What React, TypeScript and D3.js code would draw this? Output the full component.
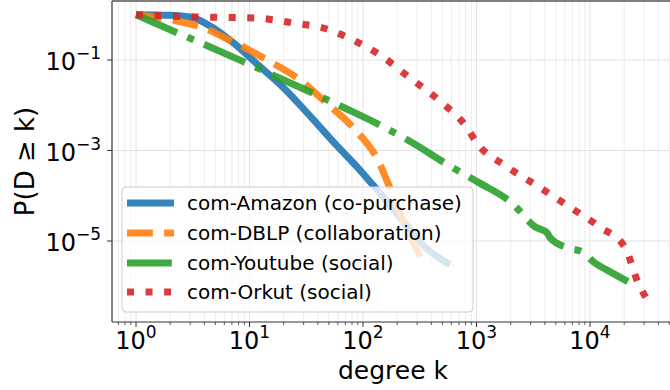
import React from 'react';
import * as d3 from 'd3';

const width = 670;
const height = 390;
const plot = { left: 112, top: 1, right: 672, bottom: 322 };

// CCDF samples (degree k, P(D >= k))
const amazonK = [1, 2, 3, 4.8, 7.2, 12.4, 19.7, 36, 58, 94, 133, 220, 352, 585];
const amazonP = [1, 0.97, 0.89, 0.51, 0.24, 0.071, 0.025, 0.005, 0.00133, 0.00037, 0.000135, 0.00003, 0.0000074, 0.000003];

const dblpK = [1, 2.1, 3.7, 7.2, 14.3, 27.9, 48, 85, 135, 180, 219, 270, 337];
const dblpP = [1, 0.76, 0.54, 0.25, 0.1, 0.036, 0.011, 0.0029, 0.00062, 0.000115, 0.000034, 0.0000107, 0.0000035];

const youtubeK = [1, 2.3, 4.2, 9.5, 17.5, 36, 69, 156, 270, 561, 1030, 2050, 3300, 4200, 4460, 6300, 8500, 11000, 15500, 22500];
const youtubeP = [1, 0.4, 0.21, 0.085, 0.042, 0.0186, 0.0087, 0.0032, 0.0015, 0.00048, 0.0002, 0.000069, 0.0000204, 0.0000151, 0.0000117, 0.0000071, 0.0000058, 0.0000033, 0.000002, 0.0000012];

const orkutK = [1, 3.5, 11, 24, 51, 72, 141, 260, 477, 824, 1000, 1850, 3500, 6650, 12200, 20400, 26500, 32600];
const orkutP = [1, 0.89, 0.85, 0.66, 0.46, 0.32, 0.129, 0.04, 0.0123, 0.0032, 0.0015, 0.00044, 0.00016, 0.000056, 0.0000204, 0.0000071, 0.0000012, 0.00000046];

const seriesNames = ['com-Amazon (co-purchase)', 'com-DBLP (collaboration)', 'com-Youtube (social)', 'com-Orkut (social)'];
const seriesColors = ['#1f77b4', '#ff7f0e', '#2ca02c', '#d62728'];
const lw = 7;
const seriesDashes = ['', `${3.7 * lw},${1.6 * lw}`, `${6.4 * lw},${1.6 * lw},${lw},${1.6 * lw}`, `${lw},${1.65 * lw}`];

const xMajor = [1, 10, 100, 1000, 10000];
const yMajor = [1e-1, 1e-3, 1e-5];

const font = 'DejaVu Sans, sans-serif';

function TickLabel({ exp, ...rest }) {
  const e = exp < 0 ? `\u2212${-exp}` : `${exp}`;
  return (
    <text {...rest} fontFamily={font} fill="#000">
      <tspan fontSize={24}>10</tspan>
      <tspan fontSize={17} dy={-11}>{e}</tspan>
    </text>
  );
}

export default function App() {
  const x = d3.scaleLog().domain([1, 1e4]).range([136, 590]);
  const y = d3.scaleLog().domain([1e-1, 1e-5]).range([60, 241]);

  const series = [
    amazonK.map((k, i) => [k, amazonP[i]]),
    dblpK.map((k, i) => [k, dblpP[i]]),
    youtubeK.map((k, i) => [k, youtubeP[i]]),
    orkutK.map((k, i) => [k, orkutP[i]]),
  ];

  const line = d3.line().x(d => x(d[0])).y(d => y(d[1])).curve(d3.curveMonotoneX);

  const xMin = x.invert(plot.left);
  const xMax = x.invert(plot.right);
  const xMinor = [];
  for (let dec = 0.1; dec <= 1e5; dec *= 10) {
    for (let m = 1; m < 10; m++) {
      const v = dec * m;
      if (v >= xMin && v <= xMax && !xMajor.some(t => Math.abs(t - v) / t < 1e-6)) xMinor.push(v);
    }
  }

  const legendY = [203, 233, 263, 292];

  return (
    <svg width={width} height={height} style={{ position: 'absolute', left: 0, top: 0 }}>
      <defs>
        <clipPath id="plotclip">
          <rect x={plot.left} y={plot.top} width={plot.right - plot.left} height={plot.bottom - plot.top} />
        </clipPath>
      </defs>
      <rect x={0} y={0} width={width} height={height} fill="#fff" />

      {/* grid */}
      <g>
        {xMinor.map((v, i) => (
          <line key={'gm' + i} x1={x(v)} x2={x(v)} y1={plot.top} y2={plot.bottom} stroke="#ececec" strokeWidth={1} />
        ))}
        {xMajor.map((v, i) => (
          <line key={'gx' + i} x1={x(v)} x2={x(v)} y1={plot.top} y2={plot.bottom} stroke="#e2e2e2" strokeWidth={1} />
        ))}
        {yMajor.map((v, i) => (
          <line key={'gy' + i} x1={plot.left} x2={plot.right} y1={y(v)} y2={y(v)} stroke="#e2e2e2" strokeWidth={1} />
        ))}
      </g>

      {/* curves */}
      <g clipPath="url(#plotclip)">
        {series.map((s, i) => (
          <path key={i} d={line(s)} fill="none" stroke={seriesColors[i]} strokeOpacity={0.9}
            strokeWidth={lw} strokeDasharray={seriesDashes[i] || undefined}
            strokeLinecap="butt" strokeLinejoin="round" />
        ))}
      </g>

      {/* spines */}
      <line x1={plot.left} x2={plot.left} y1={plot.top} y2={plot.bottom} stroke="#333" strokeWidth={1.2} />
      <line x1={plot.left} x2={plot.right} y1={plot.bottom} y2={plot.bottom} stroke="#333" strokeWidth={1.2} />
      <line x1={plot.left} x2={plot.right} y1={plot.top} y2={plot.top} stroke="#555" strokeWidth={1.6} />

      {/* x ticks */}
      {xMinor.map((v, i) => (
        <line key={'xt' + i} x1={x(v)} x2={x(v)} y1={plot.bottom} y2={plot.bottom + 3} stroke="#333" strokeWidth={0.8} />
      ))}
      {xMajor.map((v, i) => (
        <g key={'xl' + i}>
          <line x1={x(v)} x2={x(v)} y1={plot.bottom} y2={plot.bottom + 5} stroke="#333" strokeWidth={1} />
          <TickLabel exp={Math.round(Math.log10(v))} x={x(v)} y={349} textAnchor="middle" />
        </g>
      ))}

      {/* y ticks */}
      {yMajor.map((v, i) => (
        <g key={'yl' + i}>
          <line x1={plot.left - 5} x2={plot.left} y1={y(v)} y2={y(v)} stroke="#333" strokeWidth={1} />
          <TickLabel exp={Math.round(Math.log10(v))} x={101} y={y(v) + 10} textAnchor="end" />
        </g>
      ))}

      {/* axis labels */}
      <text x={393} y={379} textAnchor="middle" fontFamily={font} fontSize={25}>degree k</text>
      <text transform={`translate(34, ${(plot.top + plot.bottom) / 2}) rotate(-90)`} textAnchor="middle"
        fontFamily={font} fontSize={26}>P(D ≥ k)</text>

      {/* legend */}
      <rect x={122} y={187} width={351} height={125} rx={4} fill="#fff" fillOpacity={0.8} stroke="#cccccc" strokeWidth={1} />
      {seriesNames.map((name, i) => (
        <g key={'lg' + i}>
          <line x1={127} x2={174} y1={legendY[i]} y2={legendY[i]} stroke={seriesColors[i]} strokeOpacity={0.9}
            strokeWidth={lw} strokeDasharray={seriesDashes[i] || undefined} />
          <text x={187} y={legendY[i] + 7} fontFamily={font} fontSize={20} fill="#000">{name}</text>
        </g>
      ))}
    </svg>
  );
}
